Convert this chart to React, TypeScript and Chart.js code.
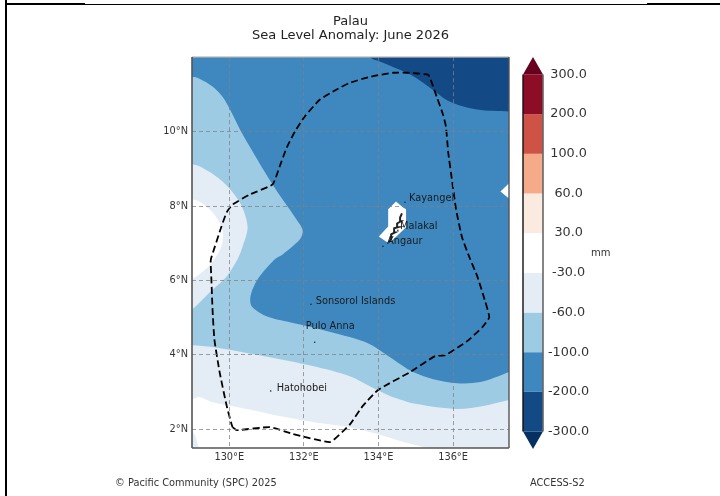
import React, { useEffect, useRef } from "react";
import { Chart, registerables } from "chart.js";

Chart.register(...registerables);

type P = [number, number];

const titleLines = ["Palau", "Sea Level Anomaly: June 2026"];
const creditText = "© Pacific Community (SPC) 2025";
const modelText = "ACCESS-S2";
const unitText = "mm";

const lonTicks = [130, 132, 134, 136];
const latTicks = [2, 4, 6, 8, 10];

const levels = [-300, -200, -100, -60, -30, 30, 60, 100, 200, 300];
const bandColors = ["#134a86", "#3e88bf", "#9dcbe3", "#e4ecf5", "#ffffff", "#fbeadf", "#f5ab8a", "#cf5246", "#8c0d25"];
const lowExtendColor = "#053061";
const highExtendColor = "#67001f";

const band200to100: P[] = [[129, 1.5], [137.5, 1.5], [137.5, 12], [129, 12]];
const bandBelow200: P[] = [[133.55, 12.5], [133.77, 12], [134.12, 11.85], [134.85, 11.53], [135.38, 11.18], [135.92, 10.8], [136.65, 10.59], [137.5, 10.54], [138.5, 10.54], [138.5, 12.5]];
const band100to60: P[] = [[128, 11.47], [129, 11.47], [129.2, 11.42], [129.55, 11.21], [129.87, 10.86], [130.36, 9.92], [131.16, 8.58], [131.89, 7.51], [131.97, 7.32], [131.89, 7.1], [131.43, 6.7], [131.22, 6.57], [130.76, 6.03], [130.57, 5.58], [130.6, 5.31], [131, 5.04], [131.62, 4.88], [132.24, 4.74], [133.23, 4.48], [133.77, 4.29], [134.31, 3.94], [134.93, 3.54], [135.47, 3.35], [136.11, 3.24], [136.73, 3.27], [137.5, 3.54], [138.5, 4], [138.5, 0.5], [128, 0.5]];
const band60to30West: P[] = [[128, 9.3], [129, 9.12], [129.28, 9.03], [129.82, 8.66], [130.28, 8.1], [130.49, 7.45], [130.36, 6.92], [130.22, 6.57], [129.93, 6.11], [129.47, 5.68], [129, 5.22], [128, 4.4]];
const band60to30South: P[] = [[128, 4.3], [129, 4.26], [129.55, 4.21], [130.9, 3.97], [132.24, 3.7], [133.23, 3.43], [133.77, 3.16], [134.31, 2.9], [135.03, 2.68], [136.11, 2.55], [136.81, 2.63], [137.5, 2.79], [138.5, 3], [138.5, 0.5], [128, 0.5]];
const neutralSouth: P[] = [[128, 2.8], [129, 2.81], [129.2, 2.87], [129.55, 2.73], [130.47, 2.55], [131.35, 2.36], [132.24, 2.2], [133.23, 2.06], [133.96, 1.88], [134.58, 1.69], [135.19, 1.53], [135.3, 1.5], [136, 1.3], [136, 0.5], [128, 0.5]];
const band60to30Corner: P[] = [[128.5, 2.2], [129, 1.96], [129.09, 1.82], [129.17, 1.55], [129.2, 1.5], [129.2, 1], [128.5, 1]];
const neutralWest: P[] = [[128, 8.4], [129, 8.18], [129.2, 8.12], [129.55, 7.83], [129.82, 7.37], [129.79, 6.92], [129.6, 6.57], [129.42, 6.35], [129, 6.03], [128, 5.4]];
const neutralPalau: P[] = [[134.47, 8.12], [134.66, 7.96], [134.74, 7.91], [134.74, 7.43], [134.31, 7.02], [134.2, 7.05], [134.01, 7.18], [134.26, 7.45], [134.26, 7.91]];
const neutralEast: P[] = [[137.27, 8.39], [137.5, 8.61], [137.5, 8.2]];

const eezBoundary: P[] = [[130.09, 2.06], [130.2, 1.98], [131.08, 2.06], [131.7, 1.88], [132.7, 1.66], [133.06, 1.96], [133.24, 2.14], [133.58, 2.63], [133.99, 3.06], [134.85, 3.54], [135.52, 3.97], [135.79, 3.99], [136.38, 4.37], [136.78, 4.74], [136.97, 5.01], [136.86, 5.44], [136.65, 6.11], [136.46, 6.57], [136.24, 7.16], [136.08, 7.91], [135.98, 8.63], [135.87, 9.44], [135.81, 10.13], [135.73, 10.46], [135.57, 10.91], [135.38, 11.45], [135.33, 11.53], [134.77, 11.58], [134.39, 11.58], [133.77, 11.47], [133.23, 11.31], [132.88, 11.13], [132.43, 10.86], [132.02, 10.4], [131.76, 10], [131.54, 9.57], [131.35, 9.06], [131.16, 8.58], [130.55, 8.31], [130.09, 8.04], [129.93, 7.83], [129.79, 7.45], [129.52, 6.62], [129.5, 6.51], [129.52, 6.03], [129.55, 5.23], [129.6, 4.42], [129.74, 3.54], [129.93, 2.63], [130.06, 2.14], [130.09, 2.06]];
const palauIslands: P[] = [[134.28, 7.02], [134.36, 7.16], [134.34, 7.24], [134.44, 7.29], [134.42, 7.4], [134.52, 7.43], [134.5, 7.53], [134.6, 7.59], [134.58, 7.69], [134.63, 7.8]];

const placeNames = ["Kayangel", "Malakal", "Angaur", "Sonsorol Islands", "Pulo Anna", "Hatohobei"];
const placeLabelAt: P[] = [[134.82, 8.2], [134.58, 7.45], [134.23, 7.05], [132.32, 5.44], [132.05, 4.77], [131.27, 3.11]];
const placeDots: P[] = [[134.71, 8.1], [134.52, 7.35], [134.12, 6.92], [132.19, 5.36], [132.29, 4.34], [131.11, 3.03]];

const FONT = "'DejaVu Sans', sans-serif";
const toXY = (ps: P[]) => ps.map(([x, y]) => ({ x, y }));

const poly = (points: P[], color: string, tension = 0) => ({
  type: "scatter" as const,
  data: toXY(points),
  showLine: true,
  fill: "shape",
  tension,
  backgroundColor: color,
  borderWidth: 0,
  borderColor: color,
  pointRadius: 0,
});

const mapPlugin = {
  id: "mapDecor",
  afterDraw(chart: any) {
    const { ctx, chartArea: a, scales } = chart;
    ctx.save();
    // plot frame
    const edge = (x0: number, y0: number, x1: number, y1: number, c: string, w: number) => {
      ctx.strokeStyle = c;
      ctx.lineWidth = w;
      ctx.beginPath();
      ctx.moveTo(x0, y0);
      ctx.lineTo(x1, y1);
      ctx.stroke();
    };
    edge(a.left, a.top, a.right, a.top, "#a8a8a8", 1.2);
    edge(a.right, a.top, a.right, a.bottom, "#555555", 1.4);
    edge(a.left, a.top, a.left, a.bottom, "#555555", 1.6);
    edge(a.left, a.bottom, a.right, a.bottom, "#555555", 1.4);
    // place names
    ctx.fillStyle = "#1a1a1a";
    ctx.font = `9.8px ${FONT}`;
    ctx.textAlign = "left";
    ctx.textBaseline = "middle";
    placeNames.forEach((name, i) => {
      ctx.fillText(name, scales.x.getPixelForValue(placeLabelAt[i][0]), scales.y.getPixelForValue(placeLabelAt[i][1]));
    });
    // footer
    ctx.fillStyle = "#333333";
    ctx.font = `9.8px ${FONT}`;
    ctx.fillText(creditText, 115, 483);
    ctx.fillText(modelText, 530, 483);
    // page frame of the source picture
    ctx.fillStyle = "#000000";
    ctx.fillRect(5, 0, 2, 496);
    ctx.fillRect(5, 3, 80, 2);
    ctx.fillRect(85, 4, 562, 1);
    ctx.fillRect(647, 3, 73, 2);
    ctx.restore();
  },
};

const barPlugin = {
  id: "barDecor",
  afterDraw(chart: any) {
    const { ctx } = chart;
    ctx.save();
    ctx.fillStyle = "#333333";
    ctx.font = `10px ${FONT}`;
    ctx.textAlign = "left";
    ctx.textBaseline = "middle";
    ctx.fillText(unitText, 76, 253);
    ctx.restore();
  },
};

export default function App() {
  const mapRef = useRef<HTMLCanvasElement>(null);
  const barRef = useRef<HTMLCanvasElement>(null);

  useEffect(() => {
    const paintOrder: any[] = [
      poly(band200to100, bandColors[1]),
      poly(bandBelow200, bandColors[0], 0.3),
      poly(band100to60, bandColors[2], 0.3),
      poly(band60to30West, bandColors[3], 0.3),
      poly(band60to30South, bandColors[3], 0.3),
      poly(neutralSouth, bandColors[4], 0.3),
      poly(band60to30Corner, bandColors[3]),
      poly(neutralWest, bandColors[4], 0.3),
      poly(neutralPalau, bandColors[4]),
      poly(neutralEast, bandColors[4]),
      {
        type: "scatter",
        data: toXY(palauIslands),
        showLine: true,
        fill: false,
        borderColor: "#222222",
        borderWidth: 2,
        pointRadius: 0,
      },
      {
        type: "scatter",
        data: toXY(eezBoundary),
        showLine: true,
        fill: false,
        tension: 0.15,
        borderColor: "#000000",
        borderWidth: 1.8,
        borderDash: [7, 3.5],
        pointRadius: 0,
      },
      {
        type: "scatter",
        data: toXY(placeDots),
        showLine: false,
        backgroundColor: "#222222",
        borderWidth: 0,
        pointRadius: 0.8,
      },
    ];

    const map = new Chart(mapRef.current!, {
      type: "scatter",
      data: { datasets: paintOrder.slice().reverse() },
      plugins: [mapPlugin],
      options: {
        responsive: false,
        animation: false,
        devicePixelRatio: 1,
        layout: { padding: { left: 0, right: 211, top: 0, bottom: 0 } },
        plugins: {
          legend: { display: false },
          tooltip: { enabled: false },
          title: {
            display: true,
            fullSize: false,
            text: titleLines,
            color: "#222222",
            font: { family: FONT, size: 13, weight: "normal", lineHeight: 1.1 },
            padding: { top: 14.5, bottom: 14 },
          },
        },
        scales: {
          x: {
            type: "linear",
            min: 129,
            max: 137.5,
            afterBuildTicks: (s: any) => {
              s.ticks = lonTicks.map((value) => ({ value }));
            },
            afterFit: (s: any) => {
              s.height = 48;
            },
            grid: { color: "rgba(128,128,128,0.75)", lineWidth: 1, z: 1, drawTicks: false },
            border: { display: false, dash: [4, 3] },
            ticks: {
              color: "#333333",
              padding: 4,
              maxRotation: 0,
              font: { family: FONT, size: 9.8 },
              callback: (v: any) => `${v}°E`,
            },
          },
          y: {
            type: "linear",
            min: 1.5,
            max: 12,
            afterBuildTicks: (s: any) => {
              s.ticks = latTicks.map((value) => ({ value }));
            },
            afterFit: (s: any) => {
              s.width = 192;
            },
            grid: { color: "rgba(128,128,128,0.75)", lineWidth: 1, z: 1, drawTicks: false },
            border: { display: false, dash: [4, 3] },
            ticks: {
              color: "#333333",
              padding: 4,
              font: { family: FONT, size: 9.8 },
              callback: (v: any) => `${v}°N`,
            },
          },
        },
      } as any,
    } as any);

    const span = levels.length - 1;
    const ext = 0.44;
    const bands: any[] = bandColors.map((c, i) =>
      poly([[0, i], [1, i], [1, i + 1], [0, i + 1]], c)
    );
    const barOrder: any[] = [
      poly([[0, 0], [1, 0], [0.5, -ext]], lowExtendColor),
      ...bands,
      poly([[0, span], [1, span], [0.5, span + ext]], highExtendColor),
      {
        type: "scatter",
        data: toXY([[0, 0], [0, span]]),
        showLine: true,
        fill: false,
        borderColor: "#111111",
        borderWidth: 1.4,
        pointRadius: 0,
        clip: false,
      },
      {
        type: "scatter",
        data: toXY([[1, 0], [1, span]]),
        showLine: true,
        fill: false,
        borderColor: "#666666",
        borderWidth: 1.6,
        pointRadius: 0,
        clip: false,
      },
    ];

    const bar = new Chart(barRef.current!, {
      type: "scatter",
      data: { datasets: barOrder.slice().reverse() },
      plugins: [barPlugin],
      options: {
        responsive: false,
        animation: false,
        devicePixelRatio: 1,
        layout: { padding: { left: 8, right: 0, top: 57, bottom: 47 } },
        plugins: { legend: { display: false }, tooltip: { enabled: false } },
        scales: {
          x: { type: "linear", display: false, min: 0, max: 1 },
          y: {
            type: "linear",
            position: "right",
            min: -ext,
            max: span + ext,
            afterBuildTicks: (s: any) => {
              s.ticks = levels.map((_, value) => ({ value }));
            },
            afterFit: (s: any) => {
              s.width = 177;
            },
            grid: { display: false, drawTicks: false },
            border: { display: false },
            ticks: {
              color: "#333333",
              padding: 5,
              align: "center",
              crossAlign: "center",
              font: { family: FONT, size: 12.8 },
              callback: (v: any) => levels[v].toFixed(1),
            },
          },
        },
      } as any,
    } as any);

    return () => {
      map.destroy();
      bar.destroy();
    };
  }, []);

  return (
    <div style={{ position: "fixed", left: 0, top: 0, width: 720, height: 496, background: "#ffffff", overflow: "hidden" }}>
      <canvas ref={mapRef} width={720} height={496} style={{ position: "absolute", left: 0, top: 0, filter: "blur(0.5px)" }} />
      <canvas ref={barRef} width={205} height={496} style={{ position: "absolute", left: 515, top: 0, filter: "blur(0.5px)" }} />
    </div>
  );
}
